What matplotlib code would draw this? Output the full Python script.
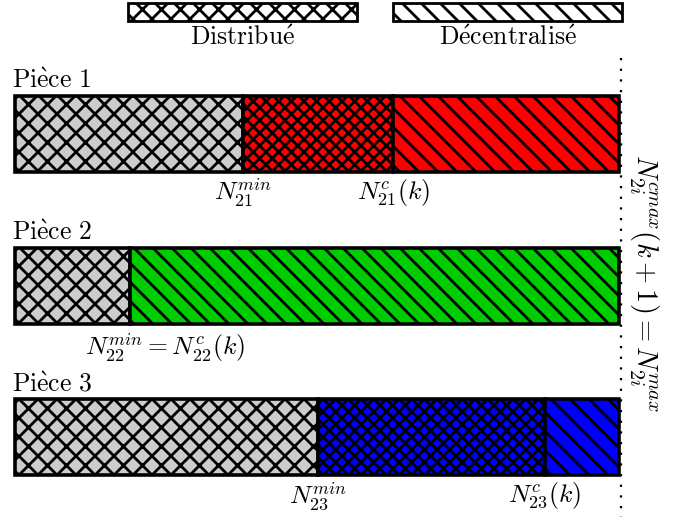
import numpy as np
import matplotlib
matplotlib.use("Agg")
import matplotlib.pyplot as plt
from matplotlib.patches import Rectangle

# dpi chosen so the hatch spacing matches the original figure
dpi = 114
k = 100 / dpi  # converts sizes tuned at 100 dpi

plt.rcParams['mathtext.fontset'] = 'cm'
plt.rcParams['font.family'] = ['cmr10', 'DejaVu Serif']
plt.rcParams['hatch.linewidth'] = 2.0 * k

# data (share of N_max, in %)
pieces = [r'$\mathrm{Pi\grave{e}ce\ 1}$', r'$\mathrm{Pi\grave{e}ce\ 2}$', r'$\mathrm{Pi\grave{e}ce\ 3}$']
n_min = [37.7, 19.0, 50.2]
n_c = [62.6, 19.0, 87.7]
n_max = 100.0
colors = ['#ff0000', '#00cc00', '#0000ff']
min_labels = [r'$N_{21}^{min}$', r'$N_{22}^{min} = N_{22}^{c}(k)$', r'$N_{23}^{min}$']
c_labels = [r'$N_{21}^{c}(k)$', None, r'$N_{23}^{c}(k)$']

fig = plt.figure(figsize=(681 / dpi, 517 / dpi), dpi=dpi)
ax = fig.add_axes([0, 0, 1, 1])
# 604 px for 100 units, starting at 15 px
scale = 6.04
ax.set_xlim(-15 / scale, (681 - 15) / scale)
ax.set_ylim(517, 0)
ax.axis('off')

rows = [134, 286, 437]
h = 76
lw = 2.6 * k
fs = 18.5 * k

# dotted line at N_max
ax.plot([n_max + 0.3, n_max + 0.3], [58, 517], color='black', lw=1.6 * k,
        linestyle=(0, (1, 3.8)), zorder=1)

for i, y in enumerate(rows):
    ax.barh(y, n_min[i], height=h, left=0, color='#cccccc', edgecolor='black',
            hatch='xx', linewidth=lw, zorder=2)
    if n_c[i] > n_min[i]:
        ax.barh(y, n_c[i] - n_min[i], height=h, left=n_min[i], color=colors[i],
                edgecolor='black', hatch='xxx', linewidth=lw, zorder=2)
    ax.barh(y, n_max - n_c[i], height=h, left=n_c[i], color=colors[i],
            edgecolor='black', hatch='\\\\', linewidth=lw, zorder=2)
    ax.text(-0.5, y - h / 2 - 3, pieces[i], fontsize=fs, ha='left', va='bottom')
    if c_labels[i] is None:
        ax.text(n_min[i] + 5.8, y + h / 2 + 24, min_labels[i], fontsize=fs,
                ha='center', va='center')
    else:
        ax.text(n_min[i], y + h / 2 + 21, min_labels[i], fontsize=fs,
                ha='center', va='center')
        ax.text(n_c[i], y + h / 2 + 21, c_labels[i], fontsize=fs,
                ha='center', va='center')

# right-hand label
ax.text(n_max + 4.3, 283, r'$N_{2i}^{cmax}(k+1) = N_{2i}^{max}$', fontsize=20.5 * k,
        rotation=-90, ha='center', va='center')

# legend
leg_items = [('xx', r'$\mathrm{Distribu\acute{e}}$'), ('\\\\', r'$\mathrm{D\acute{e}centralis\acute{e}}$')]
leg_x = [(128 - 15) / scale, (393 - 15) / scale]
leg_w = 229 / scale
for (hatch, label), x0 in zip(leg_items, leg_x):
    ax.add_patch(Rectangle((x0, 3), leg_w, 18, facecolor='white', edgecolor='black',
                           hatch=hatch, linewidth=2.0 * k))
    ax.text(x0 + leg_w / 2, 38, label, fontsize=fs, ha='center', va='center')

fig.savefig('out.png', dpi=dpi)
